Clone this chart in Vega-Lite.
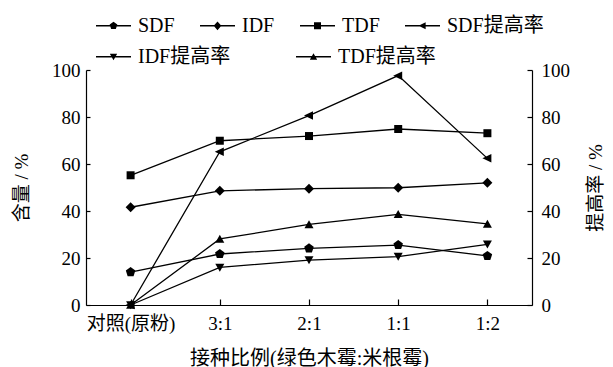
{
  "$schema": "https://vega.github.io/schema/vega-lite/v6.json",
  "width": 446,
  "height": 235,
  "autosize": {"type": "none"},
  "padding": {"left": 86, "top": 70, "right": 81, "bottom": 62},
  "background": "white",
  "config": {
    "view": {"stroke": null},
    "font": "Liberation Serif, Noto Sans CJK SC",
    "axis": {
      "labelFont": "Liberation Serif, Noto Sans CJK SC",
      "titleFont": "Liberation Serif, Noto Sans CJK SC",
      "labelFontSize": 19,
      "titleFontSize": 19,
      "titleFontWeight": "normal",
      "labelColor": "black",
      "titleColor": "black",
      "domainColor": "black",
      "tickColor": "black",
      "domainWidth": 1.2,
      "tickWidth": 1.2,
      "grid": false
    },
    "legend": {
      "labelFont": "Liberation Serif, Noto Sans CJK SC",
      "labelFontSize": 20,
      "labelColor": "black",
      "padding": 0
    }
  },
  "data": {
    "values": [
      {"cat": "对照(原粉)", "series": "SDF", "value": 14.0},
      {"cat": "3:1", "series": "SDF", "value": 21.7},
      {"cat": "2:1", "series": "SDF", "value": 24.1},
      {"cat": "1:1", "series": "SDF", "value": 25.5},
      {"cat": "1:2", "series": "SDF", "value": 20.9},
      {"cat": "对照(原粉)", "series": "IDF", "value": 41.6},
      {"cat": "3:1", "series": "IDF", "value": 48.6},
      {"cat": "2:1", "series": "IDF", "value": 49.5},
      {"cat": "1:1", "series": "IDF", "value": 49.9},
      {"cat": "1:2", "series": "IDF", "value": 52.0},
      {"cat": "对照(原粉)", "series": "TDF", "value": 55.2},
      {"cat": "3:1", "series": "TDF", "value": 69.9},
      {"cat": "2:1", "series": "TDF", "value": 71.9},
      {"cat": "1:1", "series": "TDF", "value": 74.9},
      {"cat": "1:2", "series": "TDF", "value": 73.1},
      {"cat": "对照(原粉)", "series": "SDF提高率", "value": 0},
      {"cat": "3:1", "series": "SDF提高率", "value": 65.2},
      {"cat": "2:1", "series": "SDF提高率", "value": 80.6},
      {"cat": "1:1", "series": "SDF提高率", "value": 97.6},
      {"cat": "1:2", "series": "SDF提高率", "value": 62.4},
      {"cat": "对照(原粉)", "series": "IDF提高率", "value": 0},
      {"cat": "3:1", "series": "IDF提高率", "value": 16.0},
      {"cat": "2:1", "series": "IDF提高率", "value": 19.1},
      {"cat": "1:1", "series": "IDF提高率", "value": 20.6},
      {"cat": "1:2", "series": "IDF提高率", "value": 25.8},
      {"cat": "对照(原粉)", "series": "TDF提高率", "value": 0},
      {"cat": "3:1", "series": "TDF提高率", "value": 28.1},
      {"cat": "2:1", "series": "TDF提高率", "value": 34.3},
      {"cat": "1:1", "series": "TDF提高率", "value": 38.6},
      {"cat": "1:2", "series": "TDF提高率", "value": 34.5}
    ]
  },
  "encoding": {
    "x": {
      "field": "cat",
      "type": "ordinal",
      "sort": ["对照(原粉)", "3:1", "2:1", "1:1", "1:2"],
      "scale": {"type": "point", "padding": 0.5},
      "axis": {
        "title": "接种比例(绿色木霉:米根霉)",
        "titleFontSize": 20,
        "labelAngle": 0,
        "tickSize": -6,
        "labelPadding": 15,
        "titlePadding": 15
      }
    },
    "y": {
      "field": "value",
      "type": "quantitative",
      "scale": {"domain": [0, 100], "nice": false}
    }
  },
  "layer": [
    {
      "mark": {"type": "line", "color": "black", "strokeWidth": 1.3},
      "encoding": {
        "detail": {"field": "series"},
        "y": {
          "field": "value",
          "type": "quantitative",
          "scale": {"domain": [0, 100], "nice": false},
          "axis": {
            "orient": "left",
            "title": "含量 / %",
            "values": [0, 20, 40, 60, 80, 100],
            "tickSize": -4,
            "labelPadding": 10,
            "titlePadding": 20
          }
        }
      }
    },
    {
      "transform": [{"filter": {"field": "series", "equal": "SDF"}}],
      "mark": {"type": "point", "filled": true, "color": "black", "opacity": 1, "size": 100, "shape": "M0,-1L0.951,-0.309L0.588,0.809L-0.588,0.809L-0.951,-0.309Z"},
      "encoding": {"y": {"field": "value", "type": "quantitative", "axis": null}}
    },
    {
      "transform": [{"filter": {"field": "series", "equal": "IDF"}}],
      "mark": {"type": "point", "filled": true, "color": "black", "opacity": 1, "size": 100, "shape": "M0,-1L1,0L0,1L-1,0Z"},
      "encoding": {"y": {"field": "value", "type": "quantitative", "axis": null}}
    },
    {
      "transform": [{"filter": {"field": "series", "equal": "TDF"}}],
      "mark": {"type": "point", "filled": true, "color": "black", "opacity": 1, "size": 100, "shape": "M-0.8,-0.8H0.8V0.8H-0.8Z"},
      "encoding": {"y": {"field": "value", "type": "quantitative", "axis": null}}
    },
    {
      "transform": [{"filter": {"field": "series", "equal": "SDF提高率"}}],
      "mark": {"type": "point", "filled": true, "color": "black", "opacity": 1, "size": 100, "shape": "M-1,0L0.8,-0.85L0.8,0.85Z"},
      "encoding": {"y": {"field": "value", "type": "quantitative", "axis": null}}
    },
    {
      "transform": [{"filter": {"field": "series", "equal": "IDF提高率"}}],
      "mark": {"type": "point", "filled": true, "color": "black", "opacity": 1, "size": 100, "shape": "M-0.9,-0.75L0.9,-0.75L0,0.85Z"},
      "encoding": {"y": {"field": "value", "type": "quantitative", "axis": null}}
    },
    {
      "transform": [{"filter": {"field": "series", "equal": "TDF提高率"}}],
      "mark": {"type": "point", "filled": true, "color": "black", "opacity": 1, "size": 100, "shape": "M0,-0.85L0.9,0.75L-0.9,0.75Z"},
      "encoding": {"y": {"field": "value", "type": "quantitative", "axis": null}}
    },
    {
      "transform": [{"filter": {"field": "series", "oneOf": ["SDF", "IDF", "TDF", "SDF提高率"]}}],
      "mark": {"type": "point", "filled": true, "color": "black", "opacity": 0},
      "encoding": {
        "y": {
          "field": "value",
          "type": "quantitative",
          "axis": {
            "orient": "right",
            "title": "提高率 / %",
            "titleAngle": 270,
            "values": [0, 20, 40, 60, 80, 100],
            "tickSize": -5,
            "labelPadding": 14,
            "titlePadding": 36
          }
        },
        "shape": {
          "field": "series",
          "type": "nominal",
          "sort": ["SDF", "IDF", "TDF", "SDF提高率"],
          "scale": {
            "domain": ["SDF", "IDF", "TDF", "SDF提高率"],
            "range": [
              "M-1,-0.04H1V0.04H-1ZM0,-0.23L0.219,-0.071L0.135,0.186L-0.135,0.186L-0.219,-0.071Z",
              "M-1,-0.04H1V0.04H-1ZM0,-0.25L0.22,0L0,0.25L-0.22,0Z",
              "M-1,-0.04H1V0.04H-1ZM-0.2,-0.2H0.2V0.2H-0.2Z",
              "M-1,-0.04H1V0.04H-1ZM-0.23,0L0.18,-0.2L0.18,0.2Z"
            ]
          },
          "legend": {
            "title": null,
            "orient": "none",
            "legendX": 10,
            "legendY": -62,
            "direction": "horizontal",
            "columns": 4,
            "columnPadding": 25,
            "symbolSize": 1225,
            "symbolOpacity": 1,
            "symbolFillColor": "black",
            "symbolStrokeColor": "black",
            "symbolStrokeWidth": 0,
            "labelOffset": 7,
            "encode": {
              "symbols": {
                "update": {
                  "fill": {"value": "black"},
                  "opacity": {"value": 1},
                  "size": {"value": 1225}
                }
              }
            }
          }
        }
      }
    },
    {
      "transform": [{"filter": {"field": "series", "oneOf": ["IDF提高率", "TDF提高率"]}}],
      "mark": {"type": "point", "filled": true, "color": "black", "opacity": 0},
      "encoding": {
        "y": {"field": "value", "type": "quantitative", "axis": null},
        "shape": {
          "field": "series",
          "type": "nominal",
          "sort": ["IDF提高率", "TDF提高率"],
          "scale": {
            "domain": ["IDF提高率", "TDF提高率"],
            "range": [
              "M-1,-0.04H1V0.04H-1ZM-0.21,-0.17L0.21,-0.17L0,0.2Z",
              "M-1,-0.04H1V0.04H-1ZM0,-0.2L0.21,0.17L-0.21,0.17Z"
            ]
          },
          "legend": {
            "title": null,
            "orient": "none",
            "legendX": 10,
            "legendY": -31,
            "direction": "horizontal",
            "columns": 2,
            "columnPadding": 65,
            "symbolSize": 1225,
            "symbolOpacity": 1,
            "symbolFillColor": "black",
            "symbolStrokeColor": "black",
            "symbolStrokeWidth": 0,
            "labelOffset": 7,
            "encode": {
              "symbols": {
                "update": {
                  "fill": {"value": "black"},
                  "opacity": {"value": 1},
                  "size": {"value": 1225}
                }
              }
            }
          }
        }
      }
    }
  ],
  "resolve": {"scale": {"shape": "independent"}, "axis": {"y": "independent"}}
}
